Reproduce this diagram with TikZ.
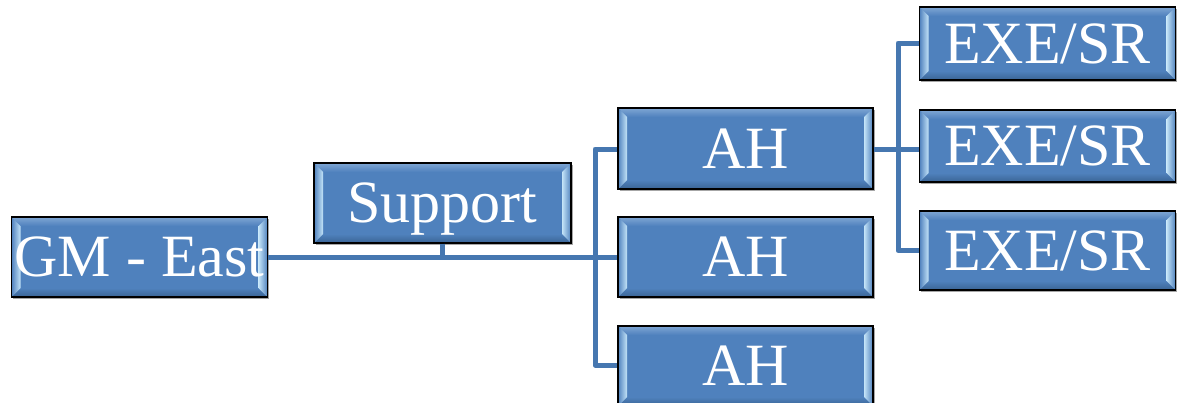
\documentclass[tikz,border=0pt]{standalone}
\usepackage{fontspec}
\setmainfont{Liberation Serif}
\usetikzlibrary{shadows}
\definecolor{boxblue}{HTML}{4F81BD}
\definecolor{boxdark}{HTML}{3A6494}
\definecolor{boxlight}{HTML}{C4E4F8}
\definecolor{boxtop}{HTML}{7FA6D4}
\definecolor{linkblue}{HTML}{4677B0}
\tikzset{
  orgbox/.style={
    draw=black, line width=1.2pt, fill=boxblue,
    minimum width=#1, inner sep=0pt, text=white,
    font=\fontsize{60}{60}\selectfont,
    text height=39pt, text depth=0pt,
    drop shadow={shadow xshift=1.5pt, shadow yshift=-2pt, opacity=0.35, fill=black},
    path picture={
      \def\d{9pt}
      \path (path picture bounding box.south west) coordinate (sw)
            (path picture bounding box.north east) coordinate (ne);
      % top bevel
      \shade[top color=boxtop, bottom color=boxblue]
        (sw|-ne) -- (ne) -- ([xshift=-\d,yshift=-\d]ne) -- ([xshift=\d,yshift=-\d]sw|-ne) -- cycle;
      % bottom bevel
      \shade[top color=boxblue, bottom color=boxdark]
        (sw) -- (ne|-sw) -- ([xshift=-\d,yshift=\d]ne|-sw) -- ([xshift=\d,yshift=\d]sw) -- cycle;
      % left bevel
      \shade[left color=boxblue, right color=boxlight]
        (sw) -- (sw|-ne) -- ([xshift=\d,yshift=-\d]sw|-ne) -- ([xshift=\d,yshift=\d]sw) -- cycle;
      % right bevel
      \shade[left color=boxlight, right color=boxblue]
        ([xshift=-\d,yshift=\d]ne|-sw) -- ([xshift=-\d,yshift=-\d]ne) -- (ne) -- (ne|-sw) -- cycle;
      % flat face
      \fill[boxblue] ([xshift=\d+1pt,yshift=\d]sw) rectangle ([xshift=-\d-1pt,yshift=-\d]ne);
    }
  },
  link/.style={draw=linkblue, line width=5pt, line join=round, line cap=butt}
}
\begin{document}
\begin{tikzpicture}[x=1pt,y=-1pt]
  \useasboundingbox (0,0) rectangle (1180,402);

  % first level
  \node[orgbox=256pt, minimum height=80pt] (gm)  at (139.5,257) {GM - East};
  \node[orgbox=257pt, minimum height=80pt] (sup) at (442.5,203) {Support};

  % second level
  \node[orgbox=255pt, minimum height=81pt] (ah1) at (745.5,148.5) {AH};
  \node[orgbox=255pt, minimum height=80pt] (ah2) at (745.5,257) {AH};
  \node[orgbox=255pt, minimum height=80pt] (ah3) at (745.5,366) {AH};

  % third level
  \node[orgbox=256pt, minimum height=73pt] (exe1) at (1047.5,43.5) {EXE/SR};
  \node[orgbox=256pt, minimum height=72pt] (exe2) at (1047.5,146) {EXE/SR};
  \node[orgbox=256pt, minimum height=79pt] (exe3) at (1047.5,250.5) {EXE/SR};

  % trunk and branch points
  \coordinate (trunk) at (595,257);
  \coordinate (branch) at (898,149);

  % connectors
  \draw[link] (gm.east) -- (trunk);
  \draw[link] (sup.south) -- (sup.south|-trunk);
  \draw[link] (ah1.west|-0,149) -| (trunk) |- (ah3.west|-0,365);
  \draw[link] (trunk) -- (ah2.west);
  \draw[link] (ah1.east|-branch) -- (branch);
  \draw[link] (exe1.west|-0,43) -| (branch) |- (exe3.west);
  \draw[link] (branch) -- (exe2.west|-branch);
\end{tikzpicture}
\end{document}
